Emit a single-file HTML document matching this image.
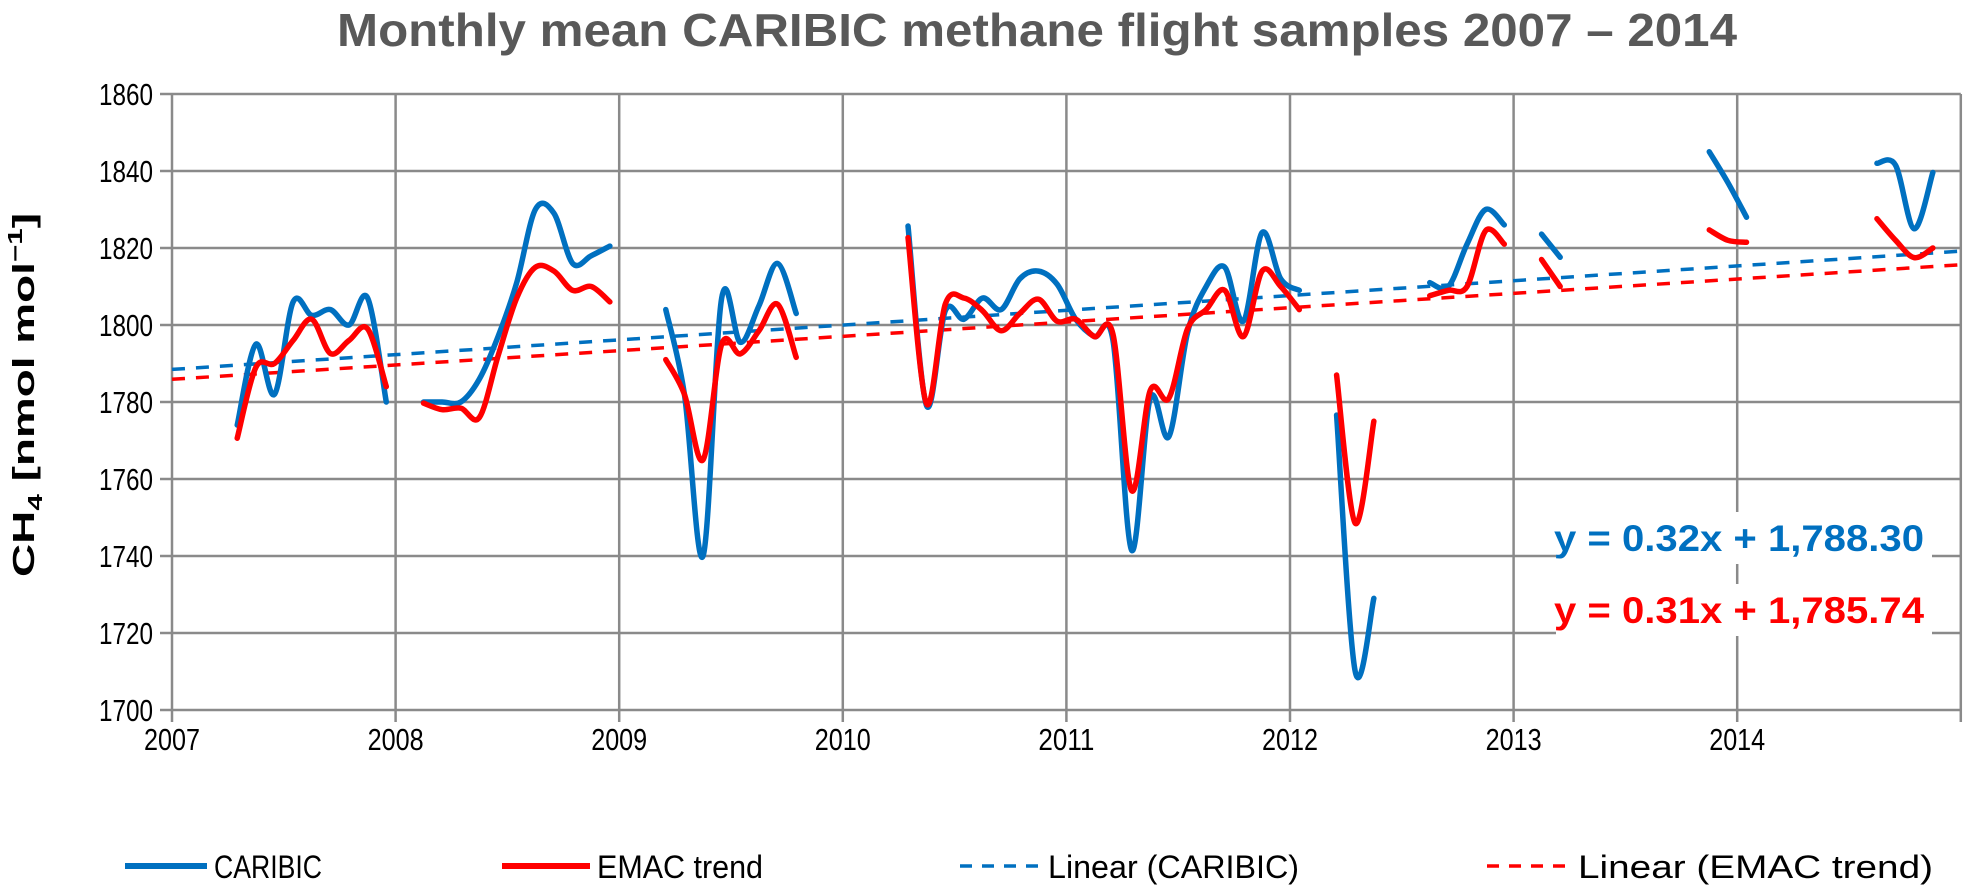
<!DOCTYPE html>
<html><head><meta charset="utf-8"><title>CARIBIC methane</title>
<style>
html,body{margin:0;padding:0;background:#fff;}
svg{display:block;font-family:"Liberation Sans",sans-serif;}
</style></head>
<body>
<svg id="chart" width="1968" height="896" viewBox="0 0 1968 896" xmlns="http://www.w3.org/2000/svg">
<text x="1037" y="46" text-anchor="middle" font-size="46" font-weight="bold" fill="#595959" textLength="1400" lengthAdjust="spacingAndGlyphs">Monthly mean CARIBIC methane flight samples 2007 – 2014</text>
<g id="grid"></g>
<g id="yticks"></g>
<g id="xticks"></g>
<g id="series"></g>
<text transform="translate(34,395) rotate(-90)" text-anchor="middle" font-size="31" font-weight="bold" fill="#000" textLength="364" lengthAdjust="spacingAndGlyphs">CH<tspan font-size="20" dy="8">4</tspan><tspan dy="-8"> [nmol  mol</tspan><tspan font-size="20" dy="-12">−1</tspan><tspan dy="12">]</tspan></text>
<g>
<rect x="1556" y="512" width="376" height="52" fill="#fff"/>
<rect x="1556" y="584" width="376" height="52" fill="#fff"/>
<text x="1554" y="551" font-size="37" font-weight="bold" fill="#0070C0" textLength="370" lengthAdjust="spacingAndGlyphs">y = 0.32x + 1,788.30</text>
<text x="1554" y="623" font-size="37" font-weight="bold" fill="#FF0000" textLength="370" lengthAdjust="spacingAndGlyphs">y = 0.31x + 1,785.74</text>
</g>
<g>
<g>
<line x1="125" y1="866" x2="207" y2="866" stroke="#0070C0" stroke-width="6"/>
<text x="214" y="878" font-size="32" textLength="108" lengthAdjust="spacingAndGlyphs">CARIBIC</text></g>
<g>
<line x1="502" y1="866" x2="590" y2="866" stroke="#FF0000" stroke-width="6"/>
<text x="597" y="878" font-size="32" textLength="166" lengthAdjust="spacingAndGlyphs">EMAC trend</text></g>
<g>
<line x1="960" y1="866" x2="1039" y2="866" stroke="#0070C0" stroke-width="3.5" stroke-dasharray="12,10"/>
<text x="1048" y="878" font-size="32" textLength="251" lengthAdjust="spacingAndGlyphs">Linear (CARIBIC)</text></g>
<g>
<line x1="1487" y1="866" x2="1569" y2="866" stroke="#FF0000" stroke-width="3.5" stroke-dasharray="12,10"/>
<text x="1578" y="878" font-size="32" textLength="355" lengthAdjust="spacingAndGlyphs">Linear (EMAC trend)</text></g>
</g>
</svg>
<script>
const yearLabels = ["2007","2008","2009","2010","2011","2012","2013","2014"];
const yTickValues = [1700,1720,1740,1760,1780,1800,1820,1840,1860];
const n = null;
const caribic = [
 n,n,n,1774,1795,1782,1806,1802.5,1804,1800,1807,1780,
 n,1780,1780,1780,1786,1797,1811,1830,1829,1816,1818,1820.5,
 n,n,1804,1782,1740,1807,1795.5,1805,1816,1803,n,n,
 n,n,n,1825.7,1779,1803.7,1801.5,1807,1804,1812,1814,1810.6,
 1801.5,1797,1796,1741.5,1781,1771,1798,1810,1815,1801,1824,1812,
 1809,n,1776.6,1710,1729,n,n,1811,1810,1821,1830,1826,
 n,1823.6,1817.6,n,n,n,n,n,n,n,1845,1837,
 1828,n,n,n,n,n,n,1842,1841.5,1825,1839.6,n];
const emac = [
 n,n,n,1770.6,1789,1790,1796,1801.5,1792.6,1796,1799,1784,
 n,1779.7,1778,1778.4,1776,1792,1807,1815,1814,1809,1810,1806,
 n,n,1791,1782,1765,1795,1792.5,1798.5,1805.4,1791.6,n,n,
 n,n,n,1822.7,1779.5,1805.4,1807,1803.7,1798.5,1803,1806.7,1801,
 1801.5,1797,1797.6,1757,1783,1781,1799,1804,1809,1797,1814,1810,
 1804,n,1787,1748.5,1775,n,n,1807.6,1809,1810,1824.5,1821,
 n,1817,1810,n,n,n,n,n,n,n,1824.7,1822,
 1821.5,n,n,n,n,n,n,1827.6,1822,1817.5,1820,n];
const caribicFit = [0.32, 1788.30];
const emacFit = [0.31, 1785.74];

const NS = "http://www.w3.org/2000/svg";
const X0 = 172, YR = 223.6, YTOP = 94, YMAX = 1860, YMIN = 1700, PH = 616;
function xm(m){ return X0 + (m + 0.5) * YR / 12; }
function xy(yearIdx){ return X0 + yearIdx * YR; }
function yv(v){ return YTOP + (YMAX - v) * PH / (YMAX - YMIN); }
function mk(tag, attrs, parent){ const e = document.createElementNS(NS, tag); for (const k in attrs) e.setAttribute(k, attrs[k]); parent.appendChild(e); return e; }

const grid = document.getElementById('grid');
const XR = xy(8);
yTickValues.forEach(v => {
  const l = mk('line', {x1: X0 - 12, x2: XR, y1: yv(v), y2: yv(v), stroke: '#8a8a8a', 'stroke-width': 2.5}, grid);
  
  
  const t = mk('text', {x: 153, y: yv(v) + 11, 'text-anchor': 'end', 'font-size': 31, fill: '#000', textLength: 54, lengthAdjust: 'spacingAndGlyphs'}, document.getElementById('yticks'));
  t.textContent = v;
  
  
});
for (let i = 0; i <= 8; i++) {
  const l = mk('line', {x1: xy(i), x2: xy(i), y1: YTOP, y2: yv(YMIN) + 12, stroke: '#8a8a8a', 'stroke-width': 2.5}, grid);
  
  
}
yearLabels.forEach((lab, i) => {
  const t = mk('text', {x: xy(i), y: 750, 'text-anchor': 'middle', 'font-size': 31, fill: '#000', textLength: 56, lengthAdjust: 'spacingAndGlyphs'}, document.getElementById('xticks'));
  t.textContent = lab;
  
  
});

const series = document.getElementById('series');
function trend(fit, color, name){
  const l = mk('line', {x1: xm(-0.5), y1: yv(fit[1] + fit[0] * 0.5), x2: xm(95.5), y2: yv(fit[1] + fit[0] * 96.5), stroke: color, 'stroke-width': 3.5, 'stroke-dasharray': '13,11'}, series);
  
  
}
function smoothPath(pts){
  if (pts.length === 1) return 'M' + pts[0][0] + ',' + pts[0][1];
  let d = 'M' + pts[0][0] + ',' + pts[0][1];
  for (let i = 0; i < pts.length - 1; i++) {
    const p0 = pts[i - 1] || pts[i], p1 = pts[i], p2 = pts[i + 1], p3 = pts[i + 2] || p2;
    const c1 = [p1[0] + (p2[0] - p0[0]) / 6, p1[1] + (p2[1] - p0[1]) / 6];
    const c2 = [p2[0] - (p3[0] - p1[0]) / 6, p2[1] - (p3[1] - p1[1]) / 6];
    d += ' C' + c1[0] + ',' + c1[1] + ' ' + c2[0] + ',' + c2[1] + ' ' + p2[0] + ',' + p2[1];
  }
  return d;
}
function line(vals, color, name){
  let seg = [];
  const segs = [];
  vals.forEach((v, m) => { if (v === null) { if (seg.length) segs.push(seg); seg = []; } else seg.push([xm(m), yv(v)]); });
  if (seg.length) segs.push(seg);
  segs.forEach(s => {
    const p = mk('path', {d: smoothPath(s), fill: 'none', stroke: color, 'stroke-width': 5.5, 'stroke-linecap': 'round', 'stroke-linejoin': 'round'}, series);
    
    
  });
}
trend(caribicFit, '#0070C0', 'linear-caribic-trendline');
trend(emacFit, '#FF0000', 'linear-emac-trendline');
line(caribic, '#0070C0', 'caribic-line');
line(emac, '#FF0000', 'emac-trend-line');
</script>
</body></html>
